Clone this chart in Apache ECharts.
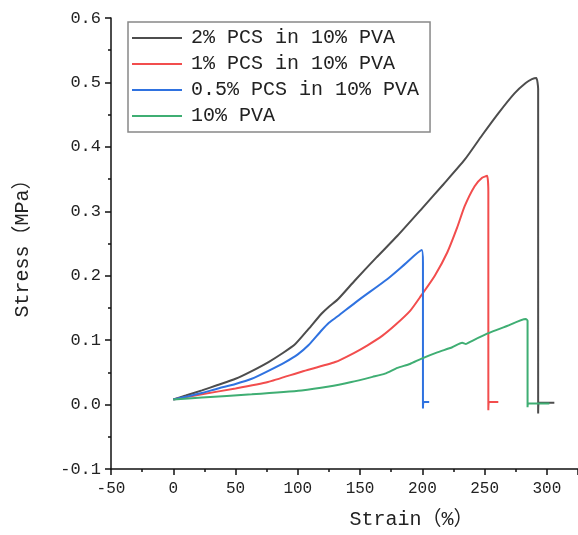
<!DOCTYPE html>
<html>
<head>
<meta charset="utf-8">
<script src="https://cdn.jsdelivr.net/npm/echarts@6/dist/echarts.min.js"></script>
<style>
  html, body { margin: 0; padding: 0; background: #fff; }
  #chart { width: 578px; height: 535px; }
</style>
</head>
<body>
<div id="chart"></div>
<script>
// 图例名称
var seriesNames = ['2% PCS in 10% PVA', '1% PCS in 10% PVA', '0.5% PCS in 10% PVA', '10% PVA'];

// 应变(%) / 应力(MPa) 数据, 读自原图
var pcs2 = [[0,0.008],[10,0.014],[23,0.022],[35,0.030],[50,0.040],[63,0.052],[76.5,0.066],[88,0.080],[98,0.094],
  [108.5,0.117],[119,0.141],[125,0.152],[132,0.163],[146,0.193],[163,0.228],[180,0.262],[200,0.305],[217,0.342],[234,0.380],
  [248,0.418],[261,0.452],[274,0.483],[283,0.499],[288,0.505],[291.5,0.507],[293,0.490],[293,-0.014],[293.5,0.003],[306,0.003]];
var pcs1 = [[0,0.008],[23,0.016],[50,0.025],[76,0.035],[103,0.051],[130,0.066],[145,0.080],[156,0.092],[168,0.107],
  [178,0.123],[190,0.145],[199,0.169],[210,0.200],[220,0.236],[228,0.275],[234,0.308],[242,0.339],[248,0.352],
  [252,0.355],[253,0.330],[253,-0.009],[253.5,0.004],[261,0.004]];
var pcs05 = [[0,0.008],[12,0.013],[23,0.018],[36,0.025],[50,0.032],[63,0.040],[76,0.052],[90,0.066],[100,0.078],
  [108.5,0.092],[119,0.115],[125,0.127],[132,0.137],[148,0.161],[172,0.195],[186,0.218],[199.5,0.240],[200.5,0.220],[200.5,-0.006],
  [201,0.004],[205.5,0.004]];
var pva = [[0,0.008],[23,0.011],[63,0.016],[103,0.022],[125,0.028],[143,0.035],[160,0.043],[170,0.048],[180,0.057],
  [190,0.063],[199,0.071],[212,0.081],[224,0.089],[232,0.096],[235,0.094],[238,0.097],[252,0.110],[268,0.122],
  [283,0.133],[284.5,0.130],[284.5,-0.004],[285,0.0015],[302,0.0015]];

var colors = ['#4d4d4d', '#f24d4d', '#2f72e0', '#3fae73'];
var allData = [pcs2, pcs1, pcs05, pva];

var chart = echarts.init(document.getElementById('chart'));
var font = '"Liberation Mono", "Noto Sans CJK SC", monospace';

var option = {
  animation: false,
  color: colors,
  textStyle: { fontFamily: font, color: '#222' },
  grid: { left: 111, right: -1, top: 18, bottom: 64 },
  legend: {
    orient: 'vertical',
    left: 128,
    top: 22,
    width: 302,
    padding: [6, 11, 6, 4],
    icon: 'rect',
    itemWidth: 50,
    itemHeight: 2,
    itemGap: 6,
    borderColor: '#888',
    borderWidth: 1.5,
    textStyle: { fontFamily: font, fontSize: 20, color: '#222', padding: [0, 0, 0, 4] },
    data: seriesNames
  },
  xAxis: {
    type: 'value',
    min: -50,
    max: 325,
    interval: 50,
    name: 'Strain（%）',
    nameLocation: 'middle',
    nameGap: 41,
    nameTextStyle: { fontFamily: font, fontSize: 20, color: '#222', padding: [0, 0, 0, 134] },
    axisLine: { show: true, onZero: false, lineStyle: { color: '#111', width: 1.5 } },
    axisTick: { show: true, length: 6, lineStyle: { color: '#111', width: 1.5 } },
    minorTick: { show: true, splitNumber: 2, length: 3, lineStyle: { color: '#111', width: 1.5 } },
    axisLabel: { showMaxLabel: false, fontSize: 16, color: '#222', margin: 12 },
    splitLine: { show: false }
  },
  yAxis: {
    type: 'value',
    min: -0.1,
    max: 0.6,
    interval: 0.1,
    name: 'Stress（MPa）',
    nameLocation: 'middle',
    nameGap: 78,
    nameTextStyle: { fontFamily: font, fontSize: 20, color: '#222' },
    axisLine: { show: true, onZero: false, lineStyle: { color: '#111', width: 1.5 } },
    axisTick: { show: true, length: 6, lineStyle: { color: '#111', width: 1.5 } },
    minorTick: { show: true, splitNumber: 2, length: 3, lineStyle: { color: '#111', width: 1.5 } },
    axisLabel: {
      fontSize: 17, color: '#222', margin: 10,
      formatter: function (v) { return v.toFixed(1); }
    },
    splitLine: { show: false }
  },
  series: seriesNames.map(function (name, i) {
    return {
      name: name,
      type: 'line',
      symbol: 'none',
      smooth: 0.2,
      data: allData[i],
      itemStyle: { color: colors[i] },
      lineStyle: { width: 2, color: colors[i] }
    };
  })
};

chart.setOption(option);
window.addEventListener('resize', chart.resize);
</script>
</body>
</html>
